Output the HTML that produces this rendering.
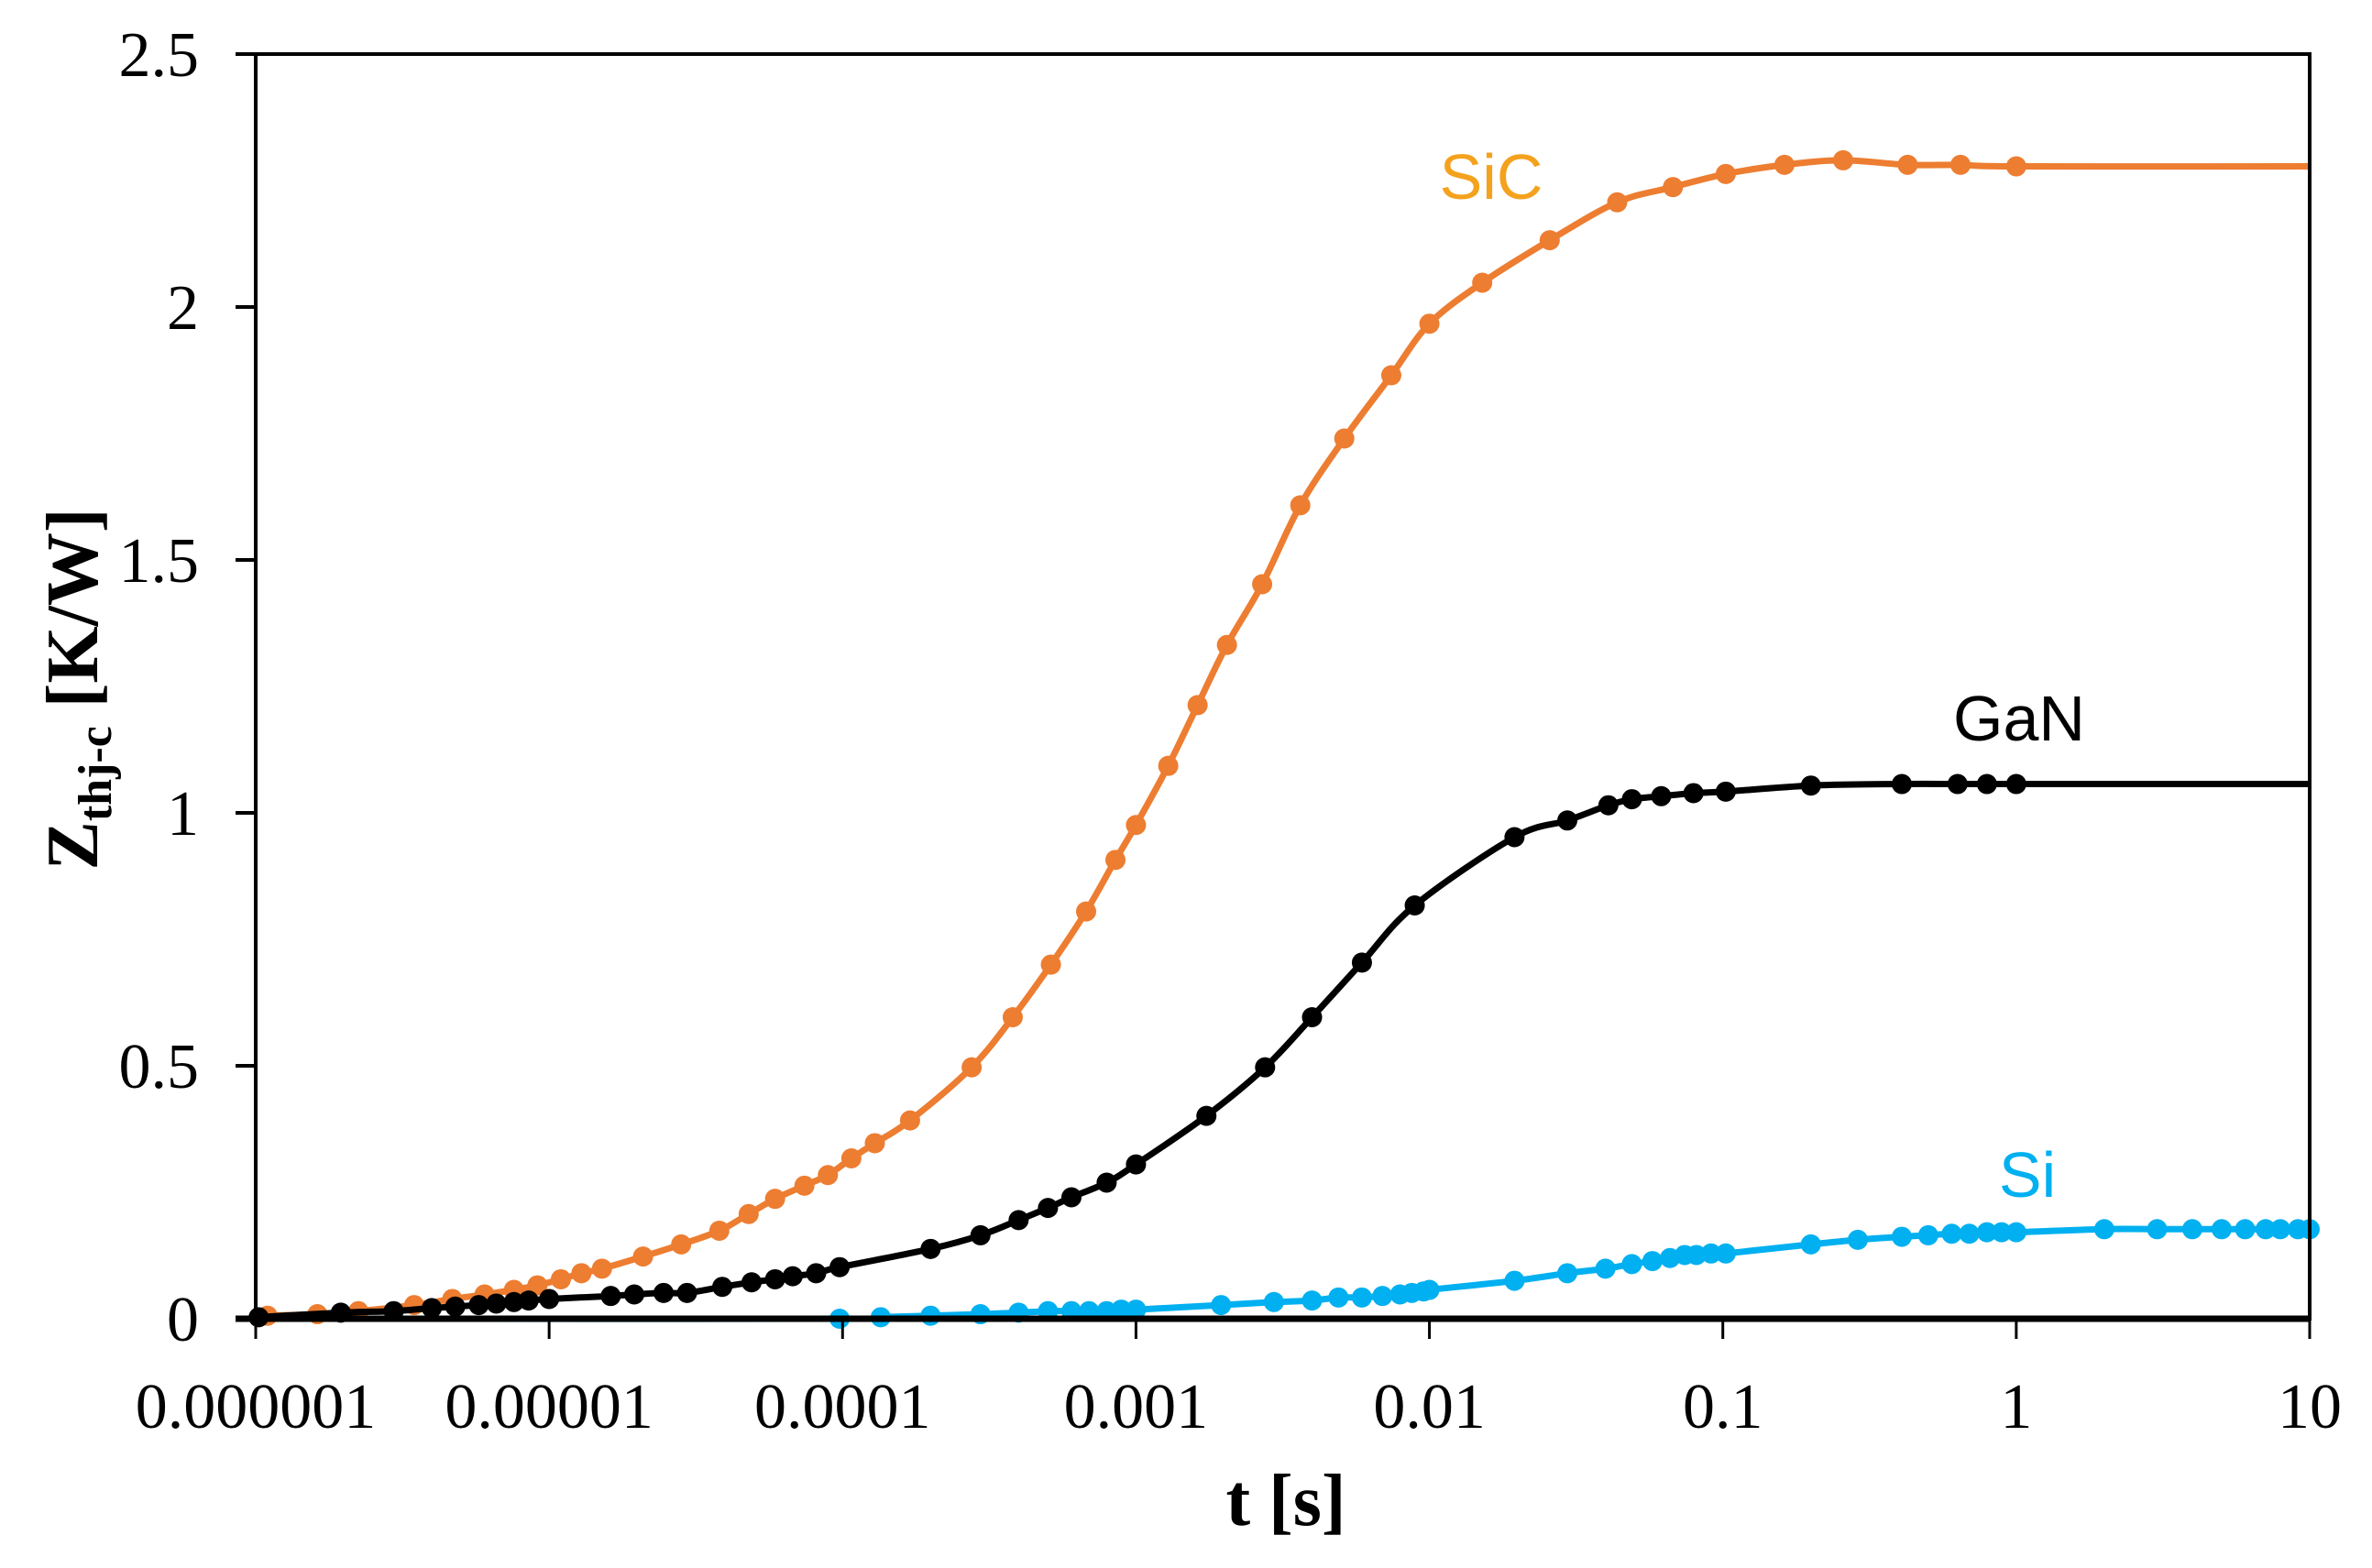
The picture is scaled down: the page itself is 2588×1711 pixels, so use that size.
<!DOCTYPE html>
<html><head><meta charset="utf-8"><style>
html,body{margin:0;padding:0;background:#fff;}
svg{display:block;}
.tick{font-family:"Liberation Serif",serif;font-size:70px;fill:#000;}
.lbl{font-family:"Liberation Sans",sans-serif;font-size:70px;}
.ttl{font-family:"Liberation Serif",serif;font-weight:bold;fill:#000;}
</style></head><body>
<svg id="chart" width="2588" height="1711" viewBox="0 0 2588 1711" xmlns="http://www.w3.org/2000/svg">
<rect x="0" y="0" width="2588" height="1711" fill="#fff"/>
<g id="plot"></g>
<g id="axes"></g>
<text class="lbl" x="1627" y="217" text-anchor="middle" fill="#F4A21E">SiC</text>
<text class="lbl" x="2203" y="808" text-anchor="middle" fill="#000">GaN</text>
<text class="lbl" x="2212" y="1306" text-anchor="middle" fill="#00B0F0">Si</text>
<text class="ttl" x="1403" y="1664" text-anchor="middle" font-size="80">t [s]</text>
<text class="ttl" transform="translate(106,752) rotate(-90)" text-anchor="middle" font-size="80">Z<tspan font-size="52" dy="15">thj-c</tspan><tspan dy="-15"> [K/W]</tspan></text>
</svg>
<script>
// log10(t) exponents and Zth values
const xTickLabels = ["0.000001","0.00001","0.0001","0.001","0.01","0.1","1","10"];
const yTickLabels = ["0","0.5","1","1.5","2","2.5"];
const sicLogT = [-5.96,-5.79,-5.65,-5.46,-5.33,-5.22,-5.12,-5.04,-4.96,-4.89,-4.82,-4.68,-4.55,-4.42,-4.32,-4.23,-4.13,-4.05,-3.97,-3.89,-3.77,-3.56,-3.42,-3.29,-3.17,-3.07,-3.00,-2.89,-2.79,-2.69,-2.57,-2.44,-2.29,-2.13,-2.00,-1.82,-1.59,-1.36,-1.17,-0.99,-0.79,-0.59,-0.37,-0.19,0.00];
const sicZ = [0.006,0.009,0.015,0.027,0.039,0.048,0.057,0.066,0.078,0.090,0.099,0.123,0.147,0.174,0.207,0.237,0.263,0.284,0.317,0.347,0.392,0.497,0.596,0.700,0.805,0.907,0.976,1.093,1.213,1.332,1.452,1.608,1.740,1.865,1.967,2.048,2.132,2.207,2.237,2.263,2.281,2.290,2.281,2.281,2.278];
const ganLogT = [-5.99,-5.71,-5.53,-5.40,-5.32,-5.24,-5.18,-5.12,-5.07,-5.00,-4.79,-4.71,-4.61,-4.53,-4.41,-4.31,-4.23,-4.17,-4.09,-4.01,-3.70,-3.53,-3.40,-3.30,-3.22,-3.10,-3.00,-2.76,-2.56,-2.40,-2.23,-2.05,-1.71,-1.53,-1.39,-1.31,-1.21,-1.10,-0.99,-0.70,-0.39,-0.20,-0.10,0.00];
const ganZ = [0.003,0.012,0.015,0.021,0.024,0.027,0.030,0.033,0.036,0.039,0.045,0.048,0.051,0.051,0.063,0.072,0.078,0.084,0.090,0.102,0.138,0.165,0.195,0.219,0.240,0.269,0.305,0.401,0.497,0.596,0.704,0.817,0.952,0.985,1.015,1.027,1.033,1.039,1.042,1.054,1.057,1.057,1.057,1.057];
const siLogT = [-4.01,-3.87,-3.70,-3.53,-3.40,-3.30,-3.22,-3.16,-3.10,-3.05,-3.00,-2.71,-2.53,-2.40,-2.31,-2.23,-2.16,-2.10,-2.06,-2.02,-2.00,-1.71,-1.53,-1.40,-1.31,-1.24,-1.18,-1.13,-1.09,-1.04,-0.99,-0.70,-0.54,-0.39,-0.30,-0.22,-0.16,-0.10,-0.05,0.00,0.30,0.48,0.60,0.70,0.78,0.85,0.90,0.96,1.00];
const siZ = [0.000,0.003,0.006,0.009,0.012,0.015,0.015,0.015,0.015,0.018,0.018,0.027,0.033,0.036,0.042,0.042,0.045,0.048,0.051,0.054,0.057,0.075,0.090,0.099,0.108,0.114,0.120,0.126,0.126,0.129,0.129,0.147,0.156,0.162,0.165,0.168,0.168,0.171,0.171,0.171,0.177,0.177,0.177,0.177,0.177,0.177,0.177,0.177,0.177];

const L=279,R=2520,T=59,B=1439;
const xMin=-6,xMax=1,yMin=0,yMax=2.5;
const xs=v=>L+(v-xMin)/(xMax-xMin)*(R-L);
const ys=v=>B-(v-yMin)/(yMax-yMin)*(B-T);
const NS="http://www.w3.org/2000/svg";
const plot=document.getElementById('plot'), axes=document.getElementById('axes');
function mk(tag,attrs,parent){const e=document.createElementNS(NS,tag);for(const k in attrs)e.setAttribute(k,attrs[k]);parent.appendChild(e);return e;}

function smooth(pts){
  let d="M"+pts[0][0]+","+pts[0][1];
  for(let i=0;i<pts.length-1;i++){
    const p0=pts[Math.max(0,i-1)],p1=pts[i],p2=pts[i+1],p3=pts[Math.min(pts.length-1,i+2)];
    const c1=[p1[0]+(p2[0]-p0[0])/6,p1[1]+(p2[1]-p0[1])/6];
    const c2=[p2[0]-(p3[0]-p1[0])/6,p2[1]-(p3[1]-p1[1])/6];
    d+=" C"+c1[0].toFixed(1)+","+c1[1].toFixed(1)+" "+c2[0].toFixed(1)+","+c2[1].toFixed(1)+" "+p2[0].toFixed(1)+","+p2[1].toFixed(1);
  }
  return d;
}
function series(name,lx,zy,color,startPt,extend){
  let pts=lx.map((v,i)=>[xs(v),ys(zy[i])]);
  if(startPt) pts=[[xs(startPt[0]),ys(startPt[1])]].concat(pts);
  if(extend) pts.push([xs(xMax),ys(zy[zy.length-1])]);
  const p=mk('path',{d:smooth(pts),fill:'none',stroke:color,'stroke-width':7,'stroke-linejoin':'round'},plot);
  
  
  lx.forEach((v,i)=>{
    const c=mk('circle',{cx:xs(v),cy:ys(zy[i]),r:11,fill:color},plot);
    
    
  });
}
series('sic',sicLogT,sicZ,'#ED7D31',[-6,0.004],true);
series('gan',ganLogT,ganZ,'#000000',[-6,0.002],true);
series('si',siLogT,siZ,'#00B0F0',[-5.7,0.0],false);

const fr=mk('rect',{x:L,y:T,width:R-L,height:B-T,fill:'none',stroke:'#000','stroke-width':4},axes);


const xa=mk('line',{x1:L-22,y1:B,x2:R,y2:B,stroke:'#000','stroke-width':7},axes);


yTickLabels.forEach((t)=>{
  const y=ys(parseFloat(t));
  const tl=mk('line',{x1:L-22,y1:y,x2:L,y2:y,stroke:'#000','stroke-width':4},axes);
  
  
  const tx=mk('text',{x:217,y:y+24,'text-anchor':'end',class:'tick'},axes);
  tx.textContent=t;
  
  
});
xTickLabels.forEach((t)=>{
  const x=xs(Math.log10(parseFloat(t)));
  const tl=mk('line',{x1:x,y1:B,x2:x,y2:B+22,stroke:'#000','stroke-width':3},axes);
  
  
  const tx=mk('text',{x:x,y:1558,'text-anchor':'middle',class:'tick'},axes);
  tx.textContent=t;
  
  
});
</script>
</body></html>
